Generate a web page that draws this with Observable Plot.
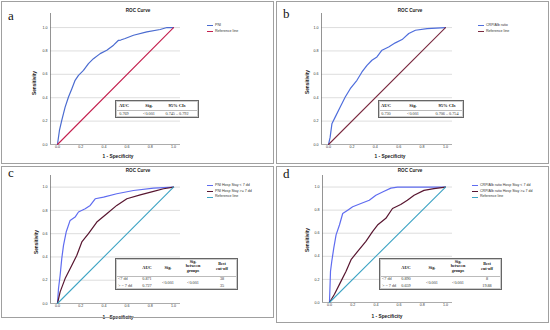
<!DOCTYPE html>
<html><head><meta charset="utf-8">
<script src="https://cdn.jsdelivr.net/npm/d3@7"></script>
<script src="https://cdn.jsdelivr.net/npm/@observablehq/plot@0.6"></script>
<style>
body{margin:0;background:#fff;}
#fig{position:relative;width:550px;height:330px;overflow:hidden;background:#fff;}
.panel{position:absolute;width:275px;height:165px;}
.panel svg{position:absolute;left:0;top:0;overflow:visible;}
.border{position:absolute;border:1px solid #a0a0a0;box-sizing:border-box;}
.t{position:absolute;white-space:nowrap;line-height:1;}
.box{position:absolute;border:1px solid #666;box-shadow:0 0 0 1px #ccc inset;box-sizing:border-box;background:#fff;}
.hl{position:absolute;height:0;border-top:1px solid #bbb;}
</style></head><body><div id="fig"></div><script>
// ---------- data ----------
const ticks = [0, 0.2, 0.4, 0.6, 0.8, 1.0];
const refX = [0, 1], refY = [0, 1];

const pniFpr = [0,.017,.037,.066,.095,.124,.152,.181,.224,.267,.31,.368,.425,.483,.526,.545,.583,.655,.77,.885,.943,1];
const pniTpr = [0,.12,.206,.32,.406,.477,.549,.591,.634,.691,.734,.777,.806,.849,.891,.893,.906,.934,.963,.983,1,1];

const crpFpr = [0,.014,.029,.057,.1,.143,.186,.243,.286,.329,.371,.414,.457,.514,.571,.629,.686,.743,.843,1];
const crpTpr = [0,.063,.177,.234,.32,.406,.477,.549,.62,.677,.72,.749,.806,.834,.869,.897,.949,.977,.991,1];

const pniLtFpr = [0,.009,.023,.037,.052,.075,.109,.152,.181,.239,.282,.325,.397,.511,.655,.828,1];
const pniLtTpr = [0,.129,.243,.386,.5,.614,.714,.743,.786,.814,.843,.9,.914,.943,.971,.991,1];
const pniGeFpr = [0,.023,.066,.124,.167,.21,.267,.339,.425,.511,.598,.713,.828,.914,1];
const pniGeTpr = [0,.1,.214,.329,.414,.529,.6,.7,.771,.843,.9,.934,.963,.986,1];

const crpLtFpr = [0,.009,.02,.037,.057,.086,.114,.157,.2,.271,.343,.4,.471,.529,.586,1];
const crpLtTpr = [0,.271,.357,.471,.586,.671,.771,.8,.829,.857,.886,.929,.963,.991,1,1];
const crpGeFpr = [0,.043,.086,.143,.186,.243,.314,.371,.414,.486,.543,.614,.671,.729,.814,.9,1];
const crpGeTpr = [0,.071,.157,.271,.371,.443,.529,.614,.671,.729,.814,.849,.886,.929,.971,.986,1];

const legendA = ["PNI", "Reference line"];
const legendB = ["CRP/Alb ratio", "Reference line"];
const legendC = ["PNI Hosp Stay < 7 dd", "PNI Hosp Stay >= 7 dd", "Reference line"];
const legendD = ["CRP/Alb ratio Hosp Stay < 7 dd", "CRP/Alb ratio Hosp Stay >= 7 dd", "Reference line"];

const tableAHead = ["AUC", "Sig.", "95% CIs"];
const tableAVals = ["0.769", "<0.001", "0.745 – 0.792"];
const tableBHead = ["AUC", "Sig.", "95% CIs"];
const tableBVals = ["0.730", "<0.001", "0.706 – 0.754"];
const tableCRows = ["<7 dd", "> = 7 dd"];
const tableCAuc = ["0.871", "0.727"];
const tableCSig = ["<0.001", "<0.001"];
const tableCCut = ["38", "35"];
const tableDRows = ["<7 dd", "> = 7 dd"];
const tableDAuc = ["0.890", "0.659"];
const tableDSig = ["<0.001", "<0.001"];
const tableDCut = ["8", "19.88"];

// ---------- helpers ----------
const fig = document.getElementById("fig");
const SANS = '"Liberation Sans", Arial, sans-serif';
const SERIF = '"Liberation Serif", "Times New Roman", serif';

function txt(parent, s, x, y, o = {}) {
  const d = document.createElement("div");
  d.className = "t";
  d.textContent = s;
  const ax = o.anchor === "start" ? "0" : o.anchor === "end" ? "-100%" : "-50%";
  Object.assign(d.style, {
    left: x + "px", top: y + "px",
    fontSize: (o.size || 4) + "px",
    fontWeight: o.bold ? "bold" : "normal",
    fontFamily: o.serif ? SERIF : SANS,
    color: o.color || "#222",
    transform: `translate(${ax},-50%)` + (o.rotate ? " rotate(-90deg)" : "")
  });
  parent.appendChild(d);
  return d;
}
function box(parent, x, y, w, h, cls) {
  const d = document.createElement("div");
  d.className = cls;
  Object.assign(d.style, { left: x + "px", top: y + "px", width: w + "px", height: h + "px" });
  parent.appendChild(d);
  return d;
}
function legend(parent, items, colors, x, y0, dy) {
  items.forEach((s, i) => {
    const y = y0 + i * dy;
    const l = box(parent, x, y - 0.6, 6, 0, "hl");
    l.style.borderTop = "1.2px solid " + colors[i];
    txt(parent, s, x + 8, y, { size: 3.6, anchor: "start", color: "#333" });
  });
}

function panel(cfg) {
  const p = document.createElement("div");
  p.className = "panel";
  p.style.left = cfg.left + "px";
  p.style.top = cfg.top + "px";
  fig.appendChild(p);
  const b = cfg.border;
  box(fig, b[0], b[1], b[2], b[3], "border");

  const chart = Plot.plot({
    width: 275, height: 165,
    marginLeft: cfg.mL, marginRight: cfg.mR, marginTop: cfg.mT, marginBottom: cfg.mB,
    style: { background: "transparent", fontFamily: SANS, overflow: "visible" },
    x: { domain: [-0.06, 1.06], axis: null },
    y: { domain: [0, cfg.yTop], axis: null },
    marks: [
      Plot.ruleY(ticks.slice(1), { stroke: "#d6d6d6", strokeWidth: 0.8 }),
      Plot.ruleX([-0.06], { y1: 0, y2: cfg.yTop, stroke: "#666", strokeWidth: 0.7 }),
      Plot.ruleY([0], { stroke: "#888", strokeWidth: 0.7 }),
      Plot.axisX(ticks, { tickSize: 0, tickPadding: 1, fontSize: 3.6, tickFormat: d3.format(".1f"), label: null, fill: "#333" }),
      Plot.axisY(ticks, { tickSize: 0, tickPadding: 3, fontSize: 3.6, tickFormat: d3.format(".1f"), label: null, fill: "#333" }),
      ...cfg.series.map(s => Plot.line({ length: s.x.length }, { x: s.x, y: s.y, stroke: s.color, strokeWidth: s.w || 1.1 }))
    ]
  });
  p.appendChild(chart);

  txt(p, cfg.letter, cfg.letterPos[0], cfg.letterPos[1], { size: 13, serif: true, anchor: "start", color: "#111" });
  txt(p, "ROC Curve", cfg.titlePos[0], cfg.titlePos[1], { size: 4.6, bold: true });
  txt(p, "1 - Specificity", cfg.xlabPos[0], cfg.xlabPos[1], { size: 4.8, bold: true });
  txt(p, "Sensitivity", cfg.ylabPos[0], cfg.ylabPos[1], { size: 4.8, bold: true, rotate: true });
  legend(p, cfg.legend, cfg.series.map(s => s.color), cfg.legPos[0], cfg.legPos[1], 5.6);
  cfg.table(p);
}

function simpleTable(p, x, y, w, h, head, vals, cols) {
  box(p, x, y, w, h, "box");
  const hl = box(p, x + 2, y + 9.5, w - 4, 0, "hl");
  head.forEach((s, i) => txt(p, s, cols[i], y + 6, { size: 4.6, serif: true, bold: true, color: "#111" }));
  vals.forEach((s, i) => txt(p, s, cols[i], y + 14, { size: 4.2, serif: true, color: "#333" }));
}
function groupTable(p, x, y, w, h, rows, auc, sig, cut, cols) {
  box(p, x, y, w, h, "box");
  box(p, x + 2, y + 18, w - 4, 0, "hl");
  txt(p, "AUC", cols[1], y + 10, { size: 4.4, serif: true, bold: true, color: "#111" });
  txt(p, "Sig.", cols[2], y + 10, { size: 4.4, serif: true, bold: true, color: "#111" });
  ["Sig.", "between", "groups"].forEach((s, i) => txt(p, s, cols[3], y + 4 + i * 4.3, { size: 4.2, serif: true, bold: true, color: "#111" }));
  ["Best", "cut-off"].forEach((s, i) => txt(p, s, cols[4], y + 6 + i * 4.5, { size: 4.2, serif: true, bold: true, color: "#111" }));
  rows.forEach((s, i) => {
    const yy = y + 21 + i * 6.5;
    txt(p, s, cols[0], yy, { size: 4.2, serif: true, anchor: "start", color: "#333" });
    txt(p, auc[i], cols[1], yy, { size: 4.2, serif: true, color: "#333" });
    txt(p, cut[i], cols[4], yy, { size: 4.2, serif: true, color: "#333" });
  });
  txt(p, sig[0], cols[2], y + 24.5, { size: 4.2, serif: true, color: "#333" });
  txt(p, sig[1], cols[3], y + 24.5, { size: 4.2, serif: true, color: "#333" });
}

// ---------- panels ----------
panel({
  left: 0, top: 0, border: [1, 1, 273, 163],
  mL: 50, mR: 95, mT: 13, mB: 21, yTop: 1.12,
  letter: "a", letterPos: [8, 15], titlePos: [138, 11], xlabPos: [118, 157], ylabPos: [35, 83],
  legend: legendA, legPos: [207, 26],
  series: [
    { x: pniFpr, y: pniTpr, color: "#4a6bd0", w: 1.2 },
    { x: refX, y: refY, color: "#c41f4e", w: 1.1 }
  ],
  table: p => simpleTable(p, 115, 100, 84, 18, tableAHead, tableAVals, [124, 149, 177])
});
panel({
  left: 275, top: 0, border: [276, 1, 273, 163],
  mL: 46, mR: 98, mT: 13, mB: 21, yTop: 1.12,
  letter: "b", letterPos: [8, 13], titlePos: [135, 11], xlabPos: [115, 157], ylabPos: [33, 82],
  legend: legendB, legPos: [203, 26],
  series: [
    { x: crpFpr, y: crpTpr, color: "#4e6ddc", w: 1.2 },
    { x: refX, y: refY, color: "#7a2a40", w: 1.1 }
  ],
  table: p => simpleTable(p, 103, 100, 86, 18, tableBHead, tableBVals, [111, 138, 172])
});
panel({
  left: 0, top: 165, border: [1, 166, 273, 152],
  mL: 50, mR: 95, mT: 10, mB: 27, yTop: 1.10,
  letter: "c", letterPos: [8, 7], titlePos: [138, 6], xlabPos: [118, 153], ylabPos: [37, 77],
  legend: legendC, legPos: [207, 21],
  series: [
    { x: pniLtFpr, y: pniLtTpr, color: "#5f6cf0", w: 1.2 },
    { x: pniGeFpr, y: pniGeTpr, color: "#581630", w: 1.2 },
    { x: refX, y: refY, color: "#3ea4c4", w: 1.1 }
  ],
  table: p => groupTable(p, 115, 93, 123, 32, tableCRows, tableCAuc, tableCSig, tableCCut, [118, 147, 168, 193, 222])
});
panel({
  left: 275, top: 165, border: [276, 166, 273, 157],
  mL: 47, mR: 98, mT: 10, mB: 28, yTop: 1.10,
  letter: "d", letterPos: [8, 8], titlePos: [135, 6], xlabPos: [112, 152], ylabPos: [33, 75],
  legend: legendD, legPos: [197, 21],
  series: [
    { x: crpLtFpr, y: crpLtTpr, color: "#5f6cf0", w: 1.2 },
    { x: crpGeFpr, y: crpGeTpr, color: "#581630", w: 1.2 },
    { x: refX, y: refY, color: "#3ea4c4", w: 1.1 }
  ],
  table: p => groupTable(p, 104, 93, 123, 32, tableDRows, tableDAuc, tableDSig, tableDCut, [107, 131, 157, 183, 212])
});
</script></body></html>
